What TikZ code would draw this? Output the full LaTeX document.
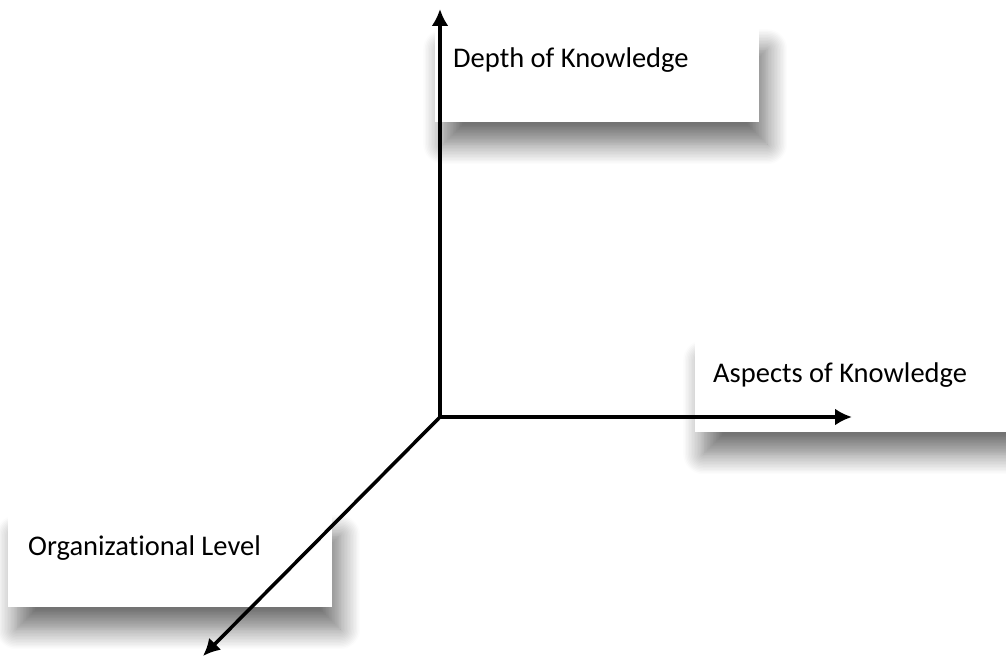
\documentclass[tikz,border=0pt]{standalone}
\usepackage{fontspec}
\setmainfont{Carlito}[Ligatures=NoCommon]
\usetikzlibrary{arrows.meta,shadows.blur}

\begin{document}
\begin{tikzpicture}[x=1pt,y=-1pt,
		box/.style={fill=white,anchor=north west,align=flush left,inner ysep=0pt,
			font=\fontsize{28.5}{34}\selectfont,
			blur shadow={shadow xshift=8pt,shadow yshift=-22pt,shadow blur radius=20pt,shadow blur steps=14,shadow opacity=55}},
		axis/.style={line width=3.5pt,-{Latex[length=17pt,width=17pt]}}]
		\useasboundingbox (0,0) rectangle (1006,658);
		\node[box,inner xsep=18pt,text width=288pt,text height=40pt,text depth=55pt] (d) at (435,27) {Depth of Knowledge};
		\node[box,inner xsep=18pt,text width=289pt,text height=44pt,text depth=50pt] (a) at (695,338) {Aspects of Knowledge};
		\node[box,inner xsep=20pt,text width=284pt,text height=42pt,text depth=52pt] (o) at (8,513) {Organizational Level};
		\coordinate (c) at (440,417);
		\coordinate (dtip) at (440,9);
		\coordinate (atip) at (852,417);
		\coordinate (otip) at (203,656);
		\draw[axis] (c) -- (dtip);
		\draw[axis] (c) -- (atip);
		\draw[axis] (c) -- (otip);
	\end{tikzpicture}
\end{document}
